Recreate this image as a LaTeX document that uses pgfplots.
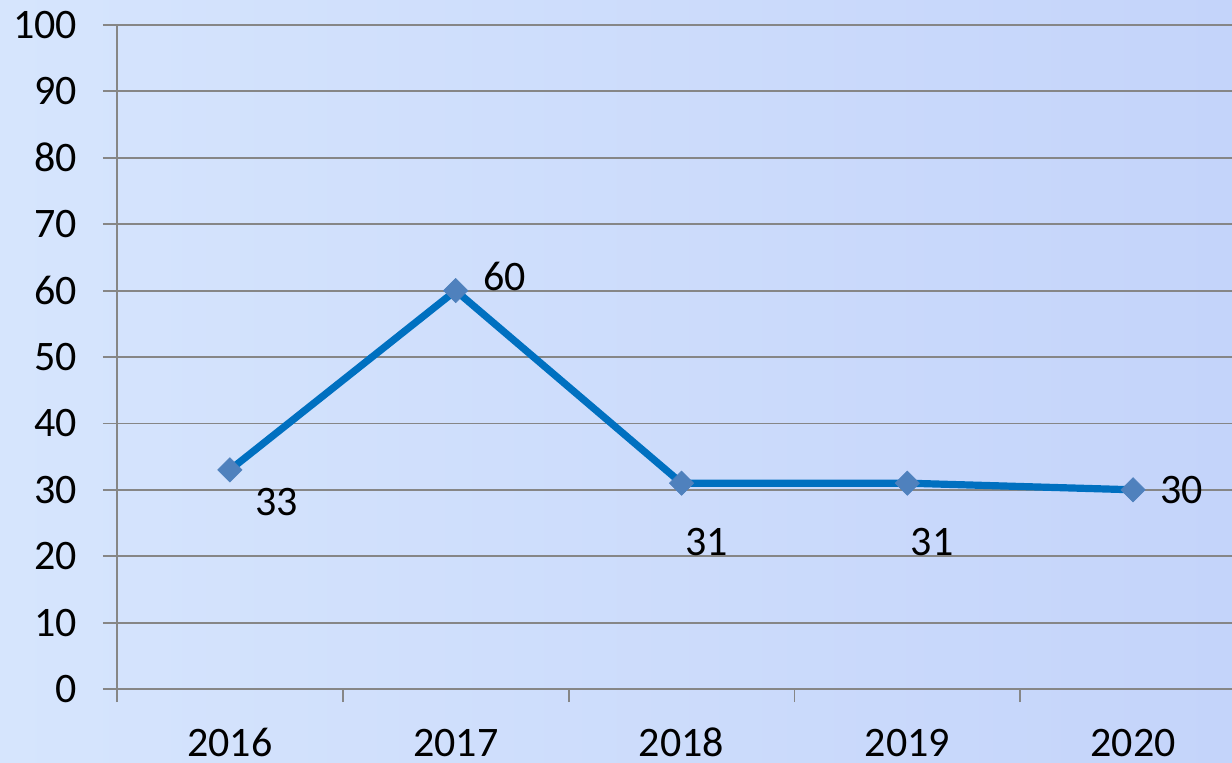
\documentclass[border=0pt]{standalone}
\usepackage{fontspec}
\setmainfont{Carlito}
\usepackage{pgfplots}
\pgfplotsset{compat=1.18}
\definecolor{bgA}{RGB}{214,229,253}
\definecolor{bgB}{RGB}{196,212,250}
\definecolor{gridc}{RGB}{134,134,134}
\definecolor{linec}{RGB}{0,112,192}
\definecolor{markc}{RGB}{79,129,189}
\begin{document}
\begin{tikzpicture}[x=1pt,y=1pt]
\clip (0,0) rectangle (616,381);
\shade[left color=bgA,right color=bgB] (0,0) rectangle (616,381);
\begin{axis}[
  scale only axis,
  width=564.5pt, height=332pt,
  at={(58.5pt,36.5pt)}, anchor=south west,
  xmin=-0.5, xmax=4.5, ymin=0, ymax=100,
  axis x line*=bottom, axis y line*=left,
  axis line style={gridc, line width=0.9pt},
  xtick={0,1,2,3,4},
  xticklabels={2016,2017,2018,2019,2020},
  major x tick style={draw=none},
  minor xtick={-0.5,0.5,1.5,2.5,3.5},
  minor x tick style={draw=gridc, line width=0.9pt},
  minor tick length=6.5pt,
  ytick={0,10,...,100},
  ytick style={gridc, line width=0.9pt},
  major tick length=7pt,
  tick align=outside,
  ymajorgrids,
  major grid style={gridc, line width=0.9pt},
  tick label style={font=\fontsize{21}{25}\selectfont, text=black},
  /pgf/number format/assume math mode=true,
  xticklabel style={anchor=base, inner sep=0pt, yshift=-26.5pt},
  yticklabel style={xshift=-9.5pt},
  clip=false,
]
\addplot[linec, line width=3.6pt, mark=square*, mark size=4.3pt,
  mark options={fill=markc, draw=markc, line width=0.3pt, rotate=45}]
  coordinates {(0,33) (1,60) (2,31) (3,31) (4,30)};
\begin{scope}[font=\fontsize{21}{25}\selectfont]
\node[anchor=north west, inner sep=0pt] at (axis cs:0.11,30.3) {33};
\node[anchor=south west, inner sep=0pt] at (axis cs:1.12,59.9) {60};
\node[anchor=north, inner sep=0pt] at (axis cs:2.11,24.3) {31};
\node[anchor=north, inner sep=0pt] at (axis cs:3.11,24.3) {31};
\node[anchor=west, inner sep=0pt] at (axis cs:4.12,30) {30};
\end{scope}
\end{axis}
\end{tikzpicture}
\end{document}
